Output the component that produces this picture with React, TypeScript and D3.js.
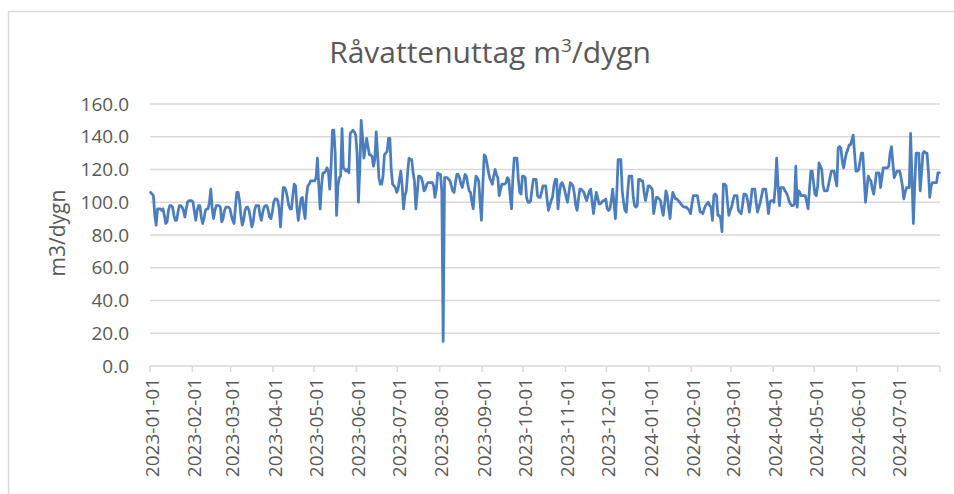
import React from "react";
import * as d3 from "d3";

// Daily raw water withdrawal, m3/dygn
const values2023H1 = [
  106, 105, 104, 92, 86, 96, 96, 96, 95, 96,
  92, 87, 88, 95, 98, 98, 97, 92, 89, 89,
  94, 98, 98, 97, 95, 91, 96, 100, 101, 101,
  101, 100, 94, 89, 95, 98, 98, 91, 87, 90,
  95, 96, 96, 100, 108, 96, 90, 95, 98, 98,
  98, 97, 88, 90, 95, 97, 97, 97, 96, 92,
  89, 87, 97, 106, 106, 101, 92, 86, 89, 95,
  97, 97, 95, 90, 85, 88, 95, 98, 98, 98,
  92, 89, 94, 97, 98, 98, 95, 91, 90, 94,
  100, 102, 102, 101, 96, 85, 98, 109, 109, 107,
  103, 98, 96, 96, 104, 111, 110, 97, 89, 96,
  102, 103, 95, 90, 104, 110, 111, 113, 113, 113,
  113, 115, 127, 110, 96, 110, 118, 118, 119, 121,
  119, 108, 122, 144, 144, 130, 92, 110, 115, 116,
  145, 121, 120, 119, 120, 118, 142, 143, 144, 143,
  141, 130, 100, 120, 150, 140, 127, 133, 139, 134,
  129, 129, 128, 122, 126, 143, 130, 115, 111, 111,
  116, 129, 130, 131, 139, 139, 120, 111, 110, 109,
  106,
];

const values2023H2 = [
  108, 114, 119, 110, 96, 104, 107, 118, 127,
  126, 126, 118, 113, 96, 105, 116, 116, 115, 112,
  107, 108, 111, 112, 112, 112, 112, 110, 103, 108,
  118, 117, 117, 107, 15, 115, 115, 115, 114, 113,
  110, 107, 106, 112, 117, 117, 115, 111, 109, 113,
  117, 116, 111, 107, 106, 100, 96, 108, 116, 115,
  113, 100, 89, 110, 129, 128, 124, 119, 115, 113,
  111, 116, 120, 117, 115, 104, 108, 111, 111, 111,
  112, 115, 114, 104, 96, 115, 127, 127, 127, 114,
  106, 105, 116, 116, 115, 103, 100, 100, 101, 108,
  114, 114, 114, 104, 103, 103, 106, 110, 110, 110,
  102, 95, 98, 101, 103, 110, 114, 114, 96, 105,
  111, 112, 110, 107, 103, 100, 106, 112, 111, 110,
  105, 98, 95, 102, 108, 108, 107, 106, 103, 101,
  104, 107, 108, 100, 93, 100, 106, 103, 99, 99,
  100, 101, 101, 102, 96, 95, 96, 101, 108, 100,
  90, 105, 126, 126, 126, 107, 100, 95, 94, 106,
  116, 116, 116, 104, 98, 97, 98, 114, 114, 113,
  113, 106, 101, 105, 110,
];

const values2024H1 = [
  110, 109, 108, 93, 98, 103, 103, 102, 101, 96,
  92, 99, 107, 104, 96, 90, 100, 106, 104, 102,
  102, 101, 100, 99, 98, 97, 97, 97, 96, 95,
  93, 99, 104, 104, 104, 104, 99, 94, 94, 93,
  96, 98, 99, 100, 98, 97, 89, 104, 105, 104,
  92, 92, 90, 82, 111, 111, 110, 100, 92, 95,
  97, 101, 104, 104, 104, 95, 94, 93, 98, 105,
  105, 104, 100, 94, 100, 108, 108, 108, 100, 94,
  97, 100, 104, 108, 108, 108, 101, 93, 100, 101,
  101, 100, 110, 127, 110, 98, 109, 109, 109, 107,
  106, 104, 101, 99, 98, 98, 99, 122, 97, 107,
  106, 104, 104, 104, 104, 100, 96, 108, 119, 119,
  112, 105, 104, 110, 124, 122, 120, 110, 107, 107,
  107, 111, 115, 119, 119, 119, 114, 110, 133, 134,
  133, 125, 121, 126, 130, 132, 135, 135, 138, 141,
  130, 119, 119, 120, 125, 130, 130, 115, 100, 108,
  116, 114, 113, 108, 105, 111, 118, 118, 118, 109,
  115, 121, 121, 121, 121, 122, 130, 134, 124, 115,
  117, 119,
];

const values2024Jul = [
  119, 119, 115, 110, 102, 106, 109, 109, 109, 142,
  115, 87, 110, 130, 130, 130, 107, 118, 130, 131,
  130, 130, 119, 103, 110, 112, 112, 112, 112, 118,
  118,
];

const yTicks = [0, 20, 40, 60, 80, 100, 120, 140, 160];

const allValues = [...values2023H1, ...values2023H2, ...values2024H1, ...values2024Jul];

const W = 954;
const H = 494;
const font = "'Open Sans', 'Noto Sans', sans-serif";
const textColor = "#595959";
const gridColor = "#d9d9d9";

export default function App() {
  const start = new Date(Date.UTC(2023, 0, 1));
  const end = new Date(Date.UTC(2024, 7, 1));
  const data = allValues.map((v, i) => ({ date: d3.utcDay.offset(start, i), value: v }));

  const x = d3.scaleUtc().domain([start, end]).range([150, 940]);
  const y = d3.scaleLinear().domain([0, 160]).range([366, 104]);

  const line = d3
    .line<{ date: Date; value: number }>()
    .x((d) => x(d3.utcHour.offset(d.date, 12)))
    .y((d) => y(d.value));

  const monthTicks = d3.utcMonth.range(start, d3.utcDay.offset(end, 1));
  const fmt = d3.utcFormat("%Y-%m-%d");

  return (
    <svg
      width={W}
      height={H}
      style={{ position: "absolute", left: 0, top: 0, background: "#fff" }}
    >
      {/* chart border */}
      <rect x={8.5} y={11.5} width={W + 10} height={H + 10} fill="#fff" stroke={gridColor} strokeWidth={1.5} />

      {/* title */}
      <text
        x={490}
        y={63}
        textAnchor="middle"
        fill={textColor}
        fontFamily={font}
        fontSize={30}
        fontWeight={400}
      >
        Råvattenuttag m<tspan fontSize={19} dy={-11}>3</tspan>
        <tspan dy={11}>/dygn</tspan>
      </text>

      {/* gridlines */}
      {yTicks.map((t) => (
        <line key={t} x1={150} x2={940} y1={y(t)} y2={y(t)} stroke={gridColor} strokeWidth={1.5} />
      ))}

      {/* y tick labels */}
      {yTicks.map((t) => (
        <text
          key={"l" + t}
          x={129}
          y={y(t)}
          dy="0.35em"
          textAnchor="end"
          fill={textColor}
          fontFamily={font}
          fontSize={19}
        >
          {t.toFixed(1)}
        </text>
      ))}

      {/* y axis title */}
      <text
        transform="translate(58,233) rotate(-90)"
        textAnchor="middle"
        dy="0.35em"
        fill={textColor}
        fontFamily={font}
        fontSize={21}
      >
        m3/dygn
      </text>

      {/* x tick marks */}
      {monthTicks.map((d) => (
        <line
          key={"t" + d.getTime()}
          x1={x(d)}
          x2={x(d)}
          y1={366}
          y2={372}
          stroke={gridColor}
          strokeWidth={1.5}
        />
      ))}

      {/* x tick labels */}
      {monthTicks
        .filter((d) => d < end)
        .map((d) => (
          <text
            key={"x" + d.getTime()}
            transform={`translate(${x(d) + 2},378) rotate(-90)`}
            textAnchor="end"
            dy="0.35em"
            fill={textColor}
            fontFamily={font}
            fontSize={19}
          >
            {fmt(d)}
          </text>
        ))}

      {/* series */}
      <path
        d={line(data) ?? ""}
        fill="none"
        stroke="#4a7ebf"
        strokeWidth={2.75}
        strokeLinejoin="round"
        strokeLinecap="round"
      />
    </svg>
  );
}
